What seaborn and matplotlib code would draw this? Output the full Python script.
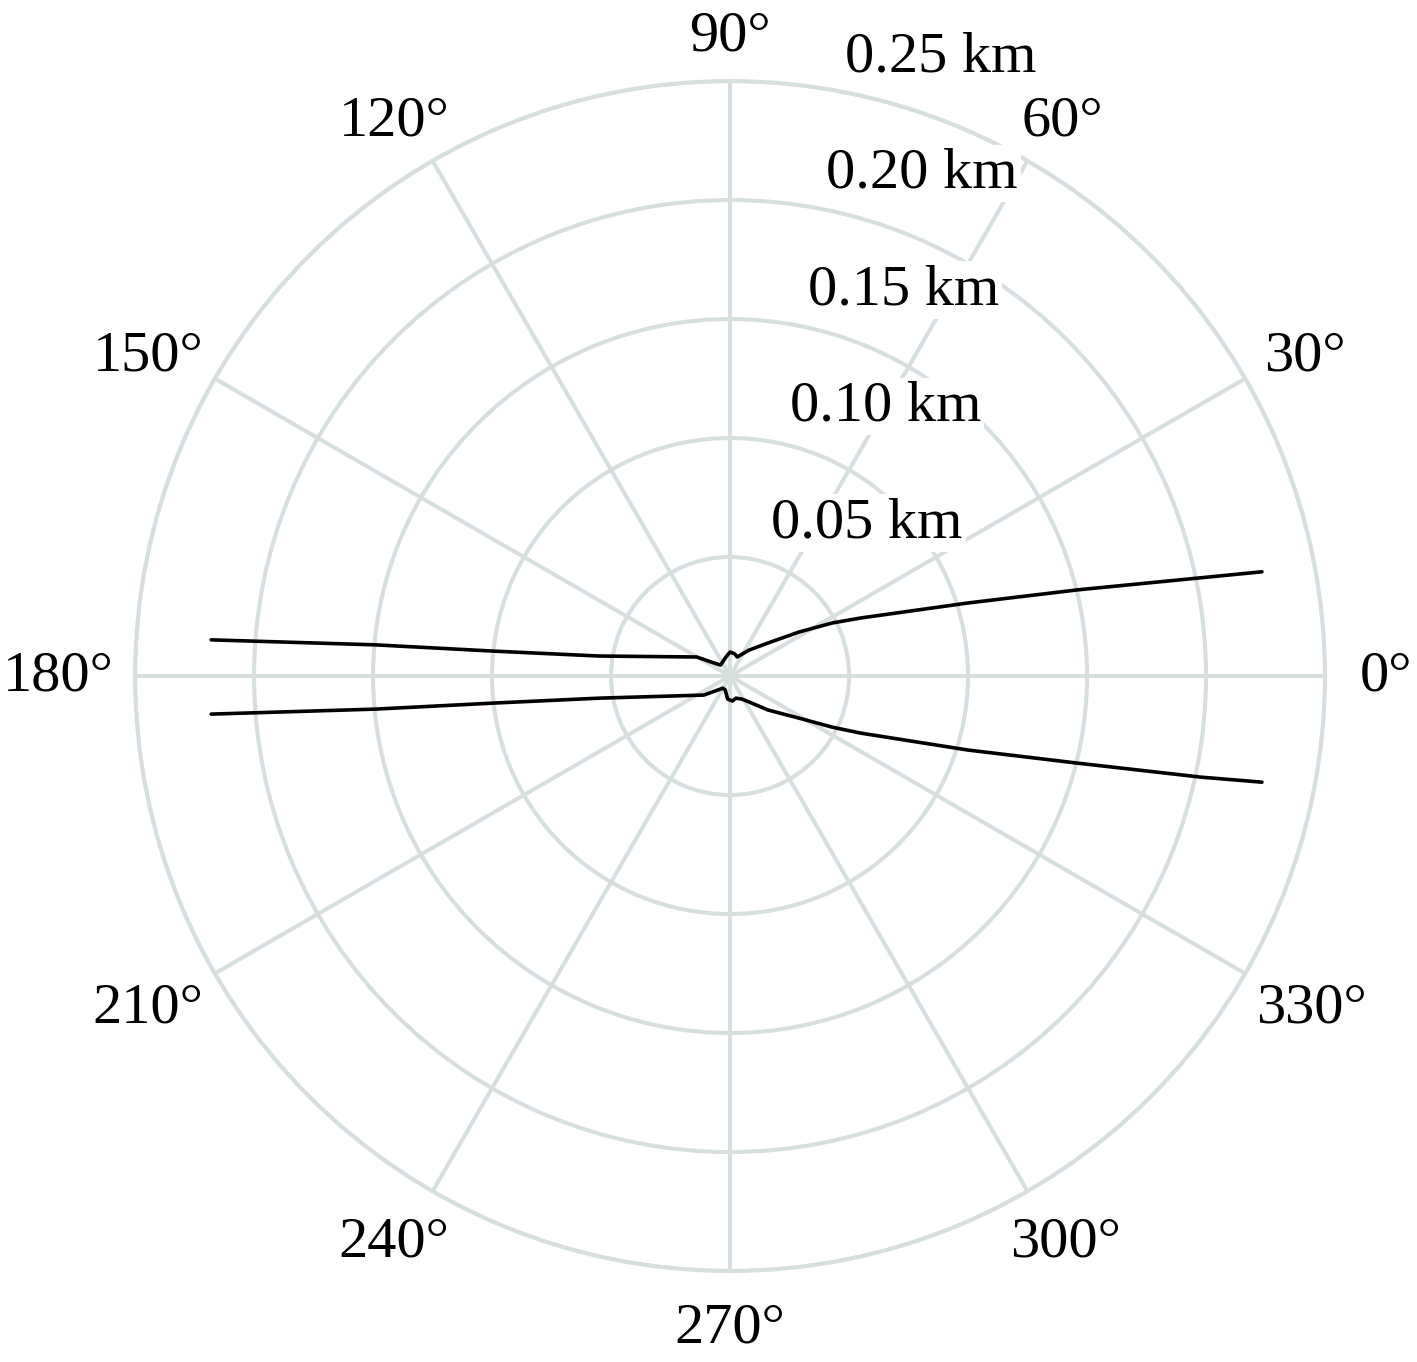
import numpy as np
import pandas as pd
import matplotlib
matplotlib.use("Agg")
import matplotlib.pyplot as plt
import seaborn as sns

# Track offsets (km) from the centre, east / north components
upper_east_km = [-0.218, -0.149, -0.100, -0.055, -0.014, -0.008, -0.004, -0.002,
                 0.000, 0.002, 0.003, 0.008, 0.016, 0.029, 0.043, 0.055,
                 0.100, 0.146, 0.198, 0.2235]
upper_north_km = [0.0152, 0.0131, 0.0105, 0.0084, 0.0080, 0.0059, 0.0046, 0.0076,
                  0.0101, 0.0093, 0.0080, 0.0109, 0.0139, 0.0185, 0.0223, 0.0244,
                  0.0307, 0.0362, 0.0413, 0.0438]
lower_east_km = [-0.218, -0.149, -0.100, -0.055, -0.011, -0.003, -0.002, -0.001,
                 0.001, 0.0025, 0.005, 0.008, 0.016, 0.029, 0.043, 0.055,
                 0.100, 0.146, 0.198, 0.2235]
lower_north_km = [-0.0160, -0.0139, -0.0114, -0.0093, -0.0080, -0.0051, -0.0059, -0.0097,
                  -0.0105, -0.0093, -0.0097, -0.0109, -0.0143, -0.0177, -0.0215, -0.0240,
                  -0.0311, -0.0366, -0.0425, -0.0446]

ring_km = [0.05, 0.10, 0.15, 0.20, 0.25]
angle_ticks = [0, 30, 60, 90, 120, 150, 180, 210, 240, 270, 300, 330]

grid_color = "#d7dede"

sns.set_theme(style="white")
plt.rcParams["font.family"] = ["Liberation Serif", "DejaVu Serif"]
plt.rcParams["text.color"] = "black"

fig = plt.figure(figsize=(14.17, 13.62), dpi=100)
ax = fig.add_axes([0.0953, 0.0668, 0.8398, 0.8737], projection="polar")

# convert tracks to polar and draw
for east, north in [(upper_east_km, upper_north_km), (lower_east_km, lower_north_km)]:
    e = np.array(east)
    n = np.array(north)
    df = pd.DataFrame({"theta": np.arctan2(n, e), "r": np.hypot(e, n)})
    sns.lineplot(data=df, x="theta", y="r", ax=ax, sort=False, estimator=None,
                 color="black", linewidth=2.6, zorder=5)

ax.set_ylim(0, 0.25)
ax.set_yticks(ring_km)
ax.set_yticklabels([])
ax.set_thetagrids(angle_ticks, [""] * len(angle_ticks))
ax.grid(True, color=grid_color, linewidth=2.9)
ax.spines["polar"].set_color(grid_color)
ax.spines["polar"].set_linewidth(2.9)
ax.set_xlabel("")
ax.set_ylabel("")

# angle labels just outside the rim, pushed out a bit by their width
r_lab = ring_km[-1] * 640 / 595
for a in angle_ticks:
    lab = f"{a}°"
    c, s = np.cos(np.radians(a)), np.sin(np.radians(a))
    dx = 0.3 * 26.5 * len(lab) * c
    dy = -12 if s < -0.1 else 0
    ax.annotate(lab, xy=(np.radians(a), r_lab), xytext=(dx, dy),
                textcoords="offset pixels", ha="center", va="center",
                fontsize=42, color="black", annotation_clip=False)

# radial labels with white boxes
for i, r in enumerate(ring_km):
    ax.annotate(f"{r:.2f} km", xy=(np.pi / 2, r), xytext=(137 + 18.3 * i, 34 - 2.5 * i),
                textcoords="offset pixels", ha="center", va="center", fontsize=42,
                color="black",
                bbox=dict(boxstyle="square,pad=0.05", fc="white", ec="none"), zorder=6,
                annotation_clip=False)

fig.savefig("out.png", dpi=100)
